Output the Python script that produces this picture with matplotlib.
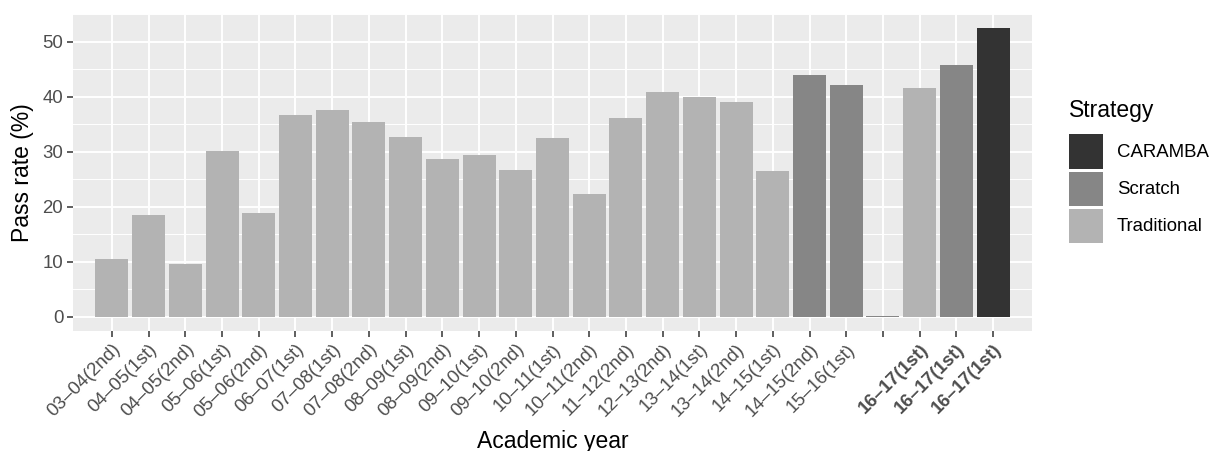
import matplotlib
matplotlib.use("Agg")
import matplotlib.pyplot as plt
from matplotlib.patches import Patch
from matplotlib.ticker import MultipleLocator

plt.rcParams['font.family'] = ['Liberation Sans', 'DejaVu Sans']

# data
years = ['03–04(2nd)', '04–05(1st)', '04–05(2nd)', '05–06(1st)', '05–06(2nd)',
         '06–07(1st)', '07–08(1st)', '07–08(2nd)', '08–09(1st)', '08–09(2nd)',
         '09–10(1st)', '09–10(2nd)', '10–11(1st)', '10–11(2nd)', '11–12(2nd)',
         '12–13(2nd)', '13–14(1st)', '13–14(2nd)', '14–15(1st)', '14–15(2nd)',
         '15–16(1st)', '', '16–17(1st)', '16–17(1st)', '16–17(1st)']
pass_rate = [10.4, 18.5, 9.6, 30.2, 18.9, 36.7, 37.5, 35.3, 32.7, 28.7,
             29.3, 26.7, 32.5, 22.2, 36.2, 40.9, 40.0, 39.1, 26.4, 44.0,
             42.2, 0.1, 41.6, 45.8, 52.4]
strategy = ['Traditional'] * 19 + ['Scratch', 'Scratch', 'Scratch',
                                   'Traditional', 'Scratch', 'CARAMBA']
bold_labels = [22, 23, 24]

strategies = ['CARAMBA', 'Scratch', 'Traditional']
fill = {'CARAMBA': '#333333', 'Scratch': '#868686', 'Traditional': '#b3b3b3'}

fig = plt.figure(figsize=(12.1, 4.51), dpi=100)
ax = fig.add_axes([73 / 1210, 1 - 331 / 451, (1032 - 73) / 1210, (331 - 14) / 451])
ax.set_facecolor('#ebebeb')

x = list(range(len(years)))
ax.bar(x, pass_rate, width=0.9, color=[fill[s] for s in strategy], zorder=3)

ax.set_xlim(-1.06, len(years) - 1 + 1.06)
top = max(pass_rate)
ax.set_ylim(-top * 0.05, top * 1.05)
ax.yaxis.set_major_locator(MultipleLocator(10))
ax.yaxis.set_minor_locator(MultipleLocator(5))

ax.grid(which='major', color='white', linewidth=1.4, zorder=1)
ax.grid(which='minor', axis='y', color='white', linewidth=0.7, zorder=1)
ax.set_axisbelow(True)
for s in ax.spines.values():
    s.set_visible(False)

ax.set_xticks(x)
ax.set_xticklabels(years, rotation=45, ha='right', va='top', rotation_mode='anchor')
for i, lab in enumerate(ax.get_xticklabels()):
    if i in bold_labels:
        lab.set_fontweight('bold')
ax.tick_params(axis='both', which='major', length=4, width=1.1, color='#333333',
               labelcolor='#4d4d4d', labelsize=13.4, pad=3)
ax.tick_params(axis='y', which='minor', length=0)

ax.set_xlabel('Academic year', fontsize=16.5, labelpad=7)
ax.set_ylabel('Pass rate (%)', fontsize=16.5, labelpad=6)

handles = [Patch(facecolor=fill[s], edgecolor='none', label=s) for s in strategies]
leg = fig.legend(handles=handles, title='Strategy', loc='upper left',
                 bbox_to_anchor=(1069 / 1210, 1 - 99 / 451), frameon=False,
                 fontsize=13.4, title_fontsize=16.5, handlelength=1.83,
                 handleheight=2.44, labelspacing=0.16, handletextpad=0.75,
                 alignment='left', borderaxespad=0, borderpad=0)
leg._legend_box.sep = 9

fig.savefig('out.png', dpi=100)
